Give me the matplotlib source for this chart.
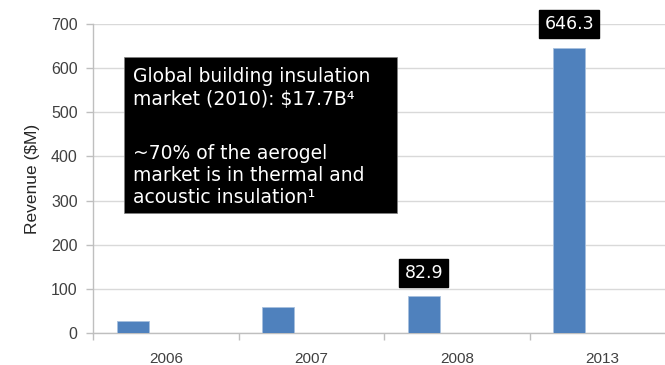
import matplotlib
matplotlib.use("Agg")
import matplotlib.pyplot as plt
from matplotlib.patches import Rectangle

# Aerogel revenue by year ($M)
years = ["2006", "2007", "2008", "2013"]
revenue = [28, 58, 82.9, 646.3]
labelled = {2: "82.9", 3: "646.3"}
y_ticks = [0, 100, 200, 300, 400, 500, 600, 700]

bar_color = "#4f81bd"
axis_color = "#bfbfbf"
grid_color = "#d9d9d9"
text_color = "#404040"

fig = plt.figure(figsize=(6.65, 3.65), dpi=100)
W, H = 665, 365

# plot area in pixel terms: left 93, bottom 333, top 24, right 675 (extends past edge)
ax = fig.add_axes([93 / W, (H - 333) / H, (675 - 93) / W, (333 - 24) / H])

n = len(years)
offset = -0.227
width = 0.22
xs = [i + offset for i in range(n)]
ax.bar(xs, revenue, width=width, color=bar_color, edgecolor="#a7c0de",
       linewidth=0.6, zorder=3)

ax.set_xlim(-0.5, n - 0.5)
ax.set_ylim(0, 700)
ax.set_yticks(y_ticks)
ax.set_yticklabels([str(v) for v in y_ticks], fontsize=11.5,
                   color=text_color, family="Liberation Sans")
ax.yaxis.grid(True, color=grid_color, linewidth=1.0, zorder=0)
ax.set_axisbelow(True)

# category boundaries carry the tick marks, category centers carry the labels
ax.set_xticks([i - 0.5 for i in range(n)])
ax.set_xticklabels([])
ax.set_xticks(list(range(n)), minor=True)
ax.set_xticklabels(years, minor=True, fontsize=11, color=text_color,
                   family="Liberation Sans")
ax.tick_params(axis="x", which="major", direction="out", length=5,
               color=axis_color, width=1)
ax.tick_params(axis="x", which="minor", length=0, pad=14)
ax.tick_params(axis="y", direction="out", length=5, color=axis_color,
               width=1, pad=6)

for side in ("top", "right"):
    ax.spines[side].set_visible(False)
for side in ("left", "bottom"):
    ax.spines[side].set_color(axis_color)
    ax.spines[side].set_linewidth(1.0)

ax.set_ylabel("Revenue ($M)", fontsize=12.5, color="#262626",
              family="Liberation Sans", labelpad=8)

# value callouts above the labelled bars
for i, txt in labelled.items():
    ax.annotate(txt, xy=(xs[i], revenue[i]), xytext=(0, 17),
                textcoords="offset points", ha="center", va="center",
                fontsize=12.5, color="white", family="DejaVu Sans",
                bbox=dict(boxstyle="square,pad=0.3", fc="black", ec="black"),
                zorder=5)

# market note box
fig.patches.append(Rectangle((124 / W, (H - 213) / H), (397 - 124) / W,
                             (213 - 57) / H, transform=fig.transFigure,
                             facecolor="black", edgecolor="#808080",
                             linewidth=0.5, zorder=4))
note_lines = [
    ("Global building insulation", 82),
    ("market (2010): $17.7B\u2074", 105),
    ("~70% of the aerogel", 159),
    ("market is in thermal and", 181),
    ("acoustic insulation\u00b9", 203),
]
for line, base in note_lines:
    fig.text(133 / W, (H - base) / H, line, ha="left", va="baseline",
             fontsize=13.5, color="white", family="DejaVu Sans",
             zorder=6)

fig.savefig("out.png", dpi=100)
